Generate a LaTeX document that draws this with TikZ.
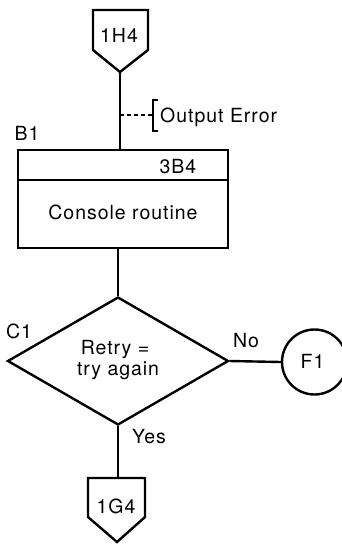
\documentclass[tikz,border=0pt]{standalone}
\usepackage{fontspec}
\setmainfont{TeX Gyre Heros}[LetterSpace=5]
\usetikzlibrary{shapes.geometric}
\begin{document}
\begin{tikzpicture}[x=1pt,y=-1pt,line width=2.4pt,line join=miter,
  every node/.style={font=\fontsize{19.5}{22}\selectfont,inner sep=0pt},
  lbl/.style={anchor=base},
  thin line/.style={line width=1.4pt}]
\useasboundingbox (0,0) rectangle (342,544);
% top off-page connector
\draw (93,10) -- (148,10) -- (148,50) -- (120,72) -- (93,50) -- cycle;
\node[lbl] (h4) at (119,42) {1H4};
\coordinate (h4tip) at (120,72);
% process box
\node[draw,minimum width=210pt,minimum height=98pt] (box) at (123,199) {};
\draw (box.west |- 0,180) -- (box.east |- 0,180);
\node[lbl] (b1) at (27,140) {B1};
\node[lbl] (ref) at (178,173) {3B4};
\node[lbl] (cons) at (123,219) {Console routine};
\coordinate (boxtop) at (box.north -| h4tip);
\draw (h4tip) -- (boxtop);
% annotation
\coordinate (dashstart) at (120,115);
\coordinate (brk) at (153,115);
\draw[thin line,dash pattern=on 4pt off 3pt] (dashstart) -- (brk);
\draw[thin line] (158,100) -- (153,100) -- (153,131) -- (158,131);
\node[lbl,anchor=base west] (oe) at (159,122) {Output Error};
% decision
\node[draw,diamond,minimum width=221pt,minimum height=128pt] (dec) at (118,361) {};
\coordinate (boxbot) at (box.south -| dec.north);
\draw (boxbot) -- (dec.north);
\node[lbl] (c1) at (19,338) {C1};
\node[lbl] (q1) at (115,354) {Retry =};
\node[lbl] (q2) at (118,375) {try again};
% F1 connector
\node[draw,circle,minimum size=65pt] (f1c) at (314.5,362) {};
\node[lbl] (f1) at (312.5,368) {F1};
\draw (dec.east) -- (f1c.west);
\node[lbl] (no) at (246,347) {No};
% bottom off-page connector
\draw (88,478) -- (145,478) -- (145,517) -- (117,542) -- (88,517) -- cycle;
\coordinate (g4top) at (dec.south |- 0,478);
\node[lbl] (g4) at (116,513) {1G4};
\draw (dec.south) -- (g4top);
\node[lbl] (yes) at (149,443) {Yes};
\end{tikzpicture}
\end{document}
